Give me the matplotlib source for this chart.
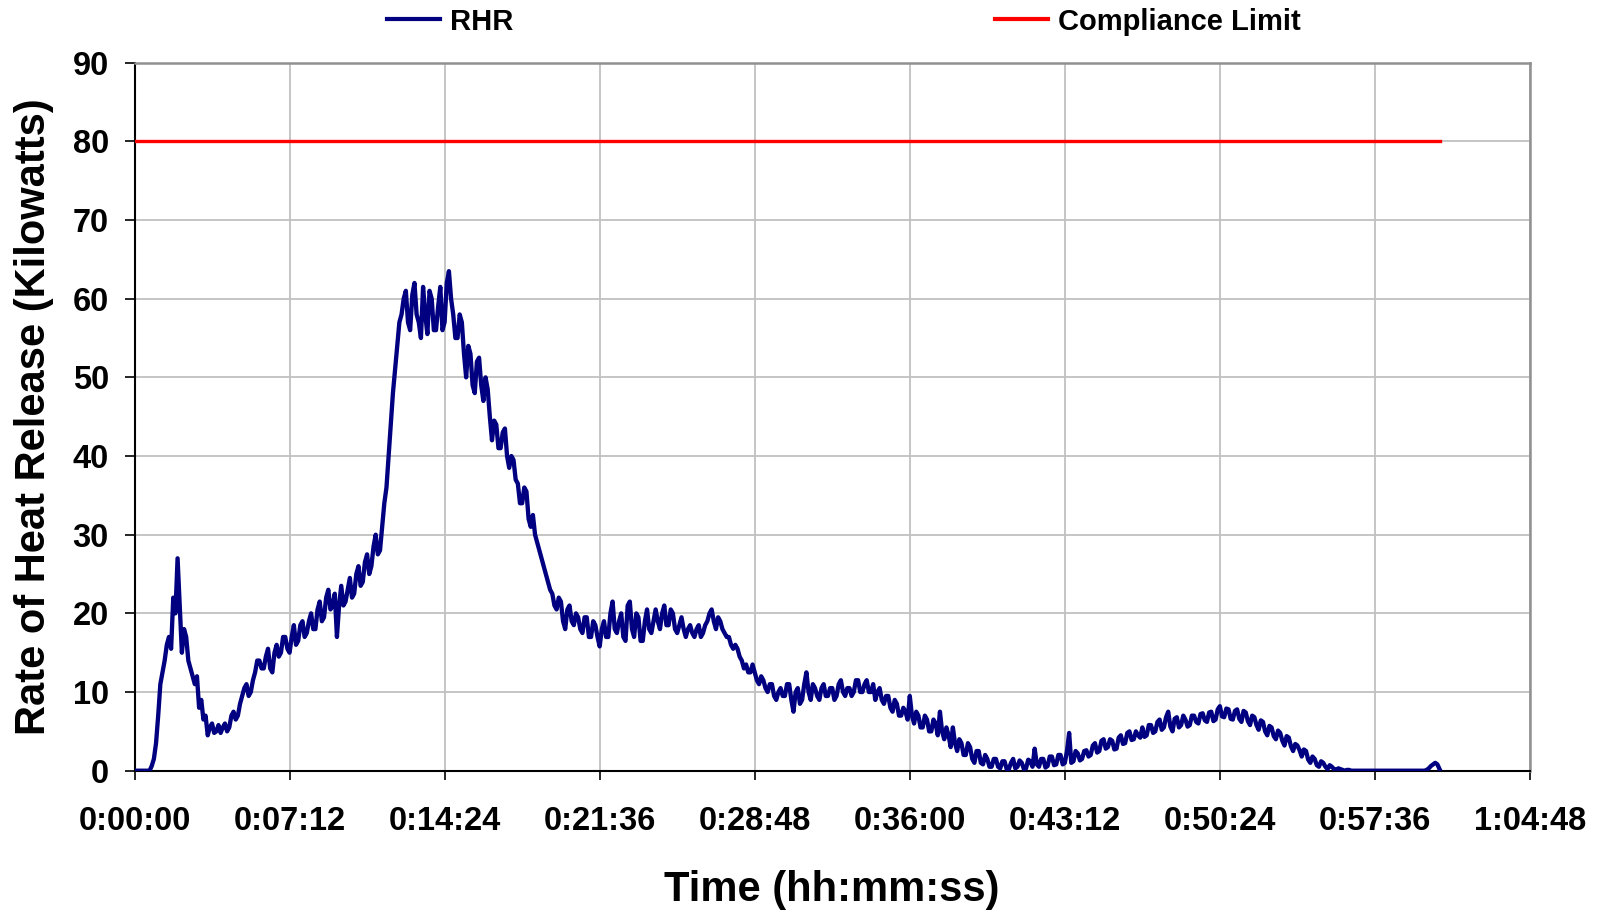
import numpy as np
import matplotlib
matplotlib.use("Agg")
import matplotlib.pyplot as plt

plt.rcParams['font.family'] = ['Liberation Sans', 'DejaVu Sans']
plt.rcParams['font.weight'] = 'bold'

# sample step (minutes) of the RHR record
step_min = 0.1
rhr_kw = [
    0, 0, 0, 0, 0, 0, 0, 0, 0.6, 1.5, 3.5, 7, 11, 12.5, 14, 16, 17, 15.5, 22, 20,
    27, 21, 15, 18, 17, 14, 13, 12, 11, 12, 8, 9, 6.5, 7, 4.5, 5.5, 6, 4.8, 5, 5.8,
    4.8, 5.5, 6, 5, 5.5, 7, 7.5, 6.5, 7, 8.5, 9.5, 10.5, 11, 9.5, 10, 11.5, 12.5, 14, 14, 13,
    13, 14.5, 15.5, 13, 12.5, 15, 16, 14.5, 15, 17, 17, 15.5, 15, 17, 18.5, 16, 16.5, 18.5, 19, 17,
    17.5, 19, 20, 18, 18, 20.5, 21.5, 19, 19.5, 22, 23, 20.5, 21, 22.5, 17, 21, 23.5, 21, 21.5, 23,
    24.5, 22, 22.5, 25, 26, 23.5, 24, 26.5, 27.5, 25, 26, 28.5, 30, 27.5, 28, 31, 34, 36, 40, 44,
    48, 51, 54, 57, 58, 60, 61, 57, 56, 60.5, 62, 58, 57, 55, 61.5, 58, 55.5, 61, 60, 56,
    56, 59, 61.5, 56, 57, 62, 63.5, 60, 58, 55, 55, 58, 57, 53, 50, 54, 53, 49, 48, 52,
    52.5, 49, 47, 50, 48.5, 45, 42, 44.5, 44, 41, 41, 43, 43.5, 40, 38.5, 40, 39.5, 37, 36.5, 34,
    34, 36, 35.5, 32, 31, 32.5, 30, 29, 28, 27, 26, 25, 24, 23, 22.5, 21, 20.5, 22, 21.5, 19,
    18, 20.5, 21, 19, 18.5, 20, 19.5, 18, 17.5, 19.5, 19.5, 17, 17, 19, 18.5, 17, 15.8, 18, 19, 17,
    17, 20, 21.5, 18, 17.5, 19, 20, 17, 16.5, 21, 21.5, 18, 17, 20, 19.5, 16.5, 16.5, 19, 20.5, 18,
    17.5, 19, 20.5, 19, 18, 20, 21, 18.5, 18.5, 20.5, 20, 18, 17.5, 18.5, 19.5, 18, 17, 18, 18.5, 17.5,
    17, 18, 18.5, 17, 17.5, 18.5, 19, 20, 20.5, 19, 18, 19.5, 19, 18, 17.5, 17, 17, 16, 15.5, 16,
    15.5, 14.5, 14, 13, 13.5, 12.5, 12.5, 13.5, 12.5, 11.5, 11, 12, 11.5, 10.5, 10, 11, 11, 9.5, 9, 10,
    10.5, 9.5, 9.5, 11, 11, 9, 7.5, 10, 10.5, 8.5, 9, 11, 12.5, 10, 9, 11, 10.5, 9.5, 9, 10.5,
    11, 9.5, 9.5, 10.5, 10.5, 9, 9.5, 11, 11.5, 10, 9.5, 10.5, 10.5, 9.5, 10, 11.5, 11.5, 10, 10, 11,
    11.5, 10, 10, 11, 9, 10, 10.5, 9, 8.5, 9.5, 9.5, 8, 7.5, 9, 8.5, 7, 7, 8, 7.5, 6.5,
    9.5, 7, 6, 7.5, 7, 5.5, 5.5, 7, 6.5, 5, 5, 6.5, 6, 4.5, 7.5, 5, 4, 5.5, 4.5, 3,
    5.5, 3.5, 2.5, 4, 3.5, 2, 2, 3.5, 3, 1.5, 1, 2.5, 2.5, 1, 0.8, 2, 1.5, 0.5, 0.5, 1.5,
    1.5, 0.5, 0.3, 1.2, 1.2, 0.2, 0.2, 1, 1.5, 0.3, 0.5, 1.3, 1, 0.2, 0.3, 1.4, 1.2, 0.5, 2.8, 0.8,
    0.5, 1.5, 1.5, 0.4, 0.6, 1.8, 1.8, 0.7, 0.8, 2, 2, 0.8, 1, 2.5, 4.8, 1, 1.2, 2.5, 2.2, 1.3,
    1.5, 2.5, 2.6, 1.8, 2, 3.2, 3.5, 2.3, 2.5, 3.8, 4, 2.8, 3, 4, 3.8, 2.7, 2.8, 4.2, 4.5, 3.4,
    3.5, 4.8, 5, 3.9, 4, 5, 4.5, 4.2, 5.5, 4.3, 4.5, 5.8, 5.8, 4.8, 5, 6.2, 6.5, 5.2, 5.5, 6.8,
    7.5, 5.6, 5, 6.6, 6.8, 5.5, 5.8, 7, 6.5, 5.6, 5.8, 7, 7, 6.2, 6, 7.2, 7.3, 6.4, 6.2, 7.4,
    7.5, 6.3, 6.5, 7.8, 8.2, 6.9, 6.8, 7.9, 7.8, 6.6, 6.5, 7.6, 7.8, 6.6, 6.2, 7.6, 7.4, 6.3, 5.8, 7,
    6.8, 5.8, 5.2, 6.4, 6.2, 5, 4.5, 5.7, 5.5, 4.4, 4, 5.1, 4.8, 3.8, 3.2, 4.4, 4.2, 3.1, 2.5, 3.4,
    3.2, 2.6, 1.8, 2.7, 2.5, 1.4, 1, 1.8, 1.5, 0.7, 0.5, 1.2, 1, 0.5, 0.2, 0.7, 0.5, 0.2, 0.1, 0.3,
    0.2, 0.1, 0, 0.1, 0.1, 0, 0, 0, 0, 0, 0, 0, 0, 0, 0, 0, 0, 0, 0, 0,
    0, 0, 0, 0, 0, 0, 0, 0, 0, 0, 0, 0, 0, 0, 0, 0, 0, 0, 0, 0,
    0.1, 0.3, 0.6, 0.8, 1.0, 0.8, 0.2,
]
limit_kw = 80
limit_span_min = [0, 60.6]

y_ticks = [0, 10, 20, 30, 40, 50, 60, 70, 80, 90]
x_tick_labels = ["0:00:00", "0:07:12", "0:14:24", "0:21:36", "0:28:48",
                 "0:36:00", "0:43:12", "0:50:24", "0:57:36", "1:04:48"]
x_tick_min = [0, 7.2, 14.4, 21.6, 28.8, 36.0, 43.2, 50.4, 57.6, 64.8]

t_min = np.arange(len(rhr_kw)) * step_min

W, H = 1604, 913
fig = plt.figure(figsize=(W / 100, H / 100), dpi=100)
ax = fig.add_axes([134.5 / W, 1 - 770.7 / H, (1530 - 134.5) / W, (770.7 - 62.7) / H])

ax.plot(t_min, rhr_kw, color='#000080', lw=3.1, label='RHR', zorder=3)
ax.plot(limit_span_min, [limit_kw, limit_kw], color='#ff0000', lw=2.4,
        label='Compliance Limit', zorder=3)

ax.set_xlim(0, 64.8)
ax.set_ylim(0, 90)
ax.set_xticks(x_tick_min)
ax.set_xticklabels(x_tick_labels)
ax.set_yticks(y_ticks)
ax.grid(True, color='#c0c0c0', lw=1.3)
ax.set_axisbelow(True)

for s in ['left', 'bottom']:
    ax.spines[s].set_color('black')
    ax.spines[s].set_linewidth(1.5)
for s in ['top', 'right']:
    ax.spines[s].set_color('#909090')
    ax.spines[s].set_linewidth(1.8)

ax.tick_params(axis='x', direction='out', length=6.5, width=1.2, pad=19,
               labelsize=23.5)
ax.tick_params(axis='y', direction='out', length=7.5, width=1.2, pad=11,
               labelsize=23.5)
for lab in ax.get_xticklabels() + ax.get_yticklabels():
    lab.set_fontweight('bold')

ax.set_xlabel('Time (hh:mm:ss)', fontsize=30, fontweight='bold', labelpad=24)
ax.set_ylabel('Rate of Heat Release (Kilowatts)', fontsize=30,
              fontweight='bold', labelpad=13)

leg = fig.legend(loc='center left', bbox_to_anchor=(386.7 / W, 1 - 21.5 / H),
                 ncol=2, frameon=False, handlelength=1.82,
                 handletextpad=0.35, columnspacing=16.5, borderpad=0,
                 borderaxespad=0, prop={'weight': 'bold', 'size': 21})
for line in leg.get_lines():
    line.set_linewidth(3)

fig.savefig('out.png', dpi=100, facecolor='white')
